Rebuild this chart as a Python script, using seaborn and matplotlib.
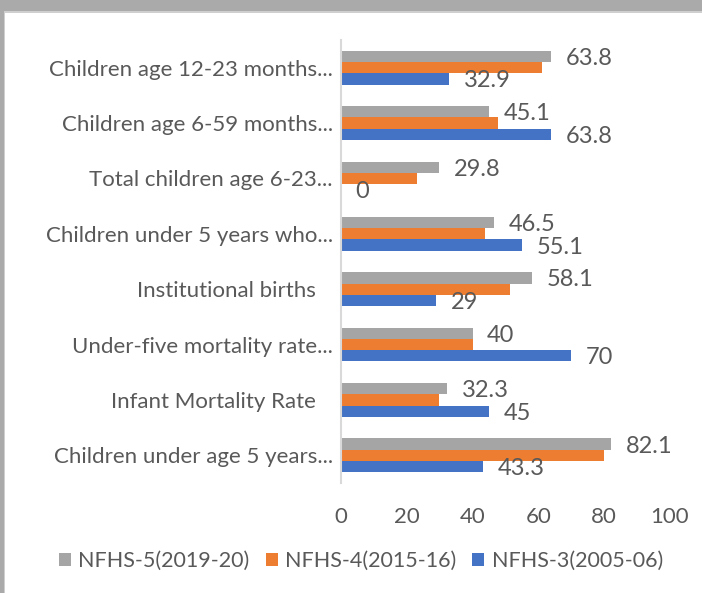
import matplotlib
matplotlib.use("Agg")
import matplotlib.pyplot as plt
from matplotlib.patches import Rectangle
import seaborn as sns
import pandas as pd

# Indicator labels (as shown on the axis, long ones truncated)
categories = [
    "Children age 12-23 months...",
    "Children age 6-59 months...",
    "Total children age 6-23...",
    "Children under 5 years who...",
    "Institutional births   ",
    "Under-five mortality rate...",
    "Infant Mortality Rate   ",
    "Children under age 5 years...",
]

# Survey rounds and their values
survey_names = ["NFHS-5(2019-20)", "NFHS-4(2015-16)", "NFHS-3(2005-06)"]
nfhs5 = [63.8, 45.1, 29.8, 46.5, 58.1, 40, 32.3, 82.1]
nfhs4 = [61.1, 47.7, 23.1, 43.8, 51.4, 40, 29.8, 79.9]
nfhs3 = [32.9, 63.8, 0, 55.1, 29, 70, 45, 43.3]

x_ticks = [0, 20, 40, 60, 80, 100]

colors = ["#A5A5A5", "#ED7D31", "#4472C4"]
text_color = "#595959"

df = pd.DataFrame({
    "indicator": categories * 3,
    "survey": [survey_names[0]] * 8 + [survey_names[1]] * 8 + [survey_names[2]] * 8,
    "value": nfhs5 + nfhs4 + nfhs3,
})

sns.set_theme(style="white")
plt.rcParams["font.family"] = ["Lato", "DejaVu Sans"]
FS = 16

fig = plt.figure(figsize=(7.02, 5.93), dpi=100)
fig.patch.set_facecolor("white")

# outer frame: grey band along the top and left edge
fig.patches.append(Rectangle((0, 1 - 11 / 593), 1, 11 / 593, transform=fig.transFigure,
                             facecolor="#AAAAAA", edgecolor="none", zorder=0))
fig.patches.append(Rectangle((0, 1 - 13 / 593), 1, 2 / 593, transform=fig.transFigure,
                             facecolor="#CFCFCF", edgecolor="none", zorder=0))
fig.patches.append(Rectangle((0, 0), 3.5 / 702, 1, transform=fig.transFigure,
                             facecolor="#AAAAAA", edgecolor="none", zorder=0))
fig.patches.append(Rectangle((3.5 / 702, 0), 1.5 / 702, 1 - 11 / 593, transform=fig.transFigure,
                             facecolor="#CFCFCF", edgecolor="none", zorder=0))

ax = fig.add_axes([341 / 702, 1 - 483 / 593, (670 - 341) / 702, (483 - 40) / 593])

sns.barplot(data=df, y="indicator", x="value", hue="survey", hue_order=survey_names,
            order=categories, palette=colors, orient="h", width=0.61, gap=0,
            linewidth=0, saturation=1, ax=ax)

ax.set_xlim(0, 100)
ax.set_xticks(x_ticks)
ax.set_xlabel("")
ax.set_ylabel("")
ax.tick_params(axis="x", length=0, pad=17, labelsize=FS, labelcolor=text_color)
ax.tick_params(axis="y", length=0, pad=6, labelsize=FS, labelcolor=text_color)
for side in ["top", "right", "bottom"]:
    ax.spines[side].set_visible(False)
ax.spines["left"].set_color("#D9D9D9")
ax.spines["left"].set_linewidth(1.5)
ax.grid(False)

# value labels for the NFHS-5 and NFHS-3 series
for idx in (0, 2):
    texts = ax.bar_label(ax.containers[idx], fmt="{:g}", padding=10.5, fontsize=17,
                         color=text_color)
    for t in texts:
        t.set_verticalalignment("center_baseline")

handles, labels = ax.get_legend_handles_labels()
ax.legend_.remove()
fig.legend(handles, labels, ncol=3, frameon=False, loc="center",
           bbox_to_anchor=(361 / 702, 1 - 561 / 593), fontsize=15.5,
           labelcolor=text_color, handlelength=0.55, handleheight=0.55,
           handletextpad=0.35, columnspacing=0.75)

fig.savefig("out.png", dpi=100, facecolor="white")
